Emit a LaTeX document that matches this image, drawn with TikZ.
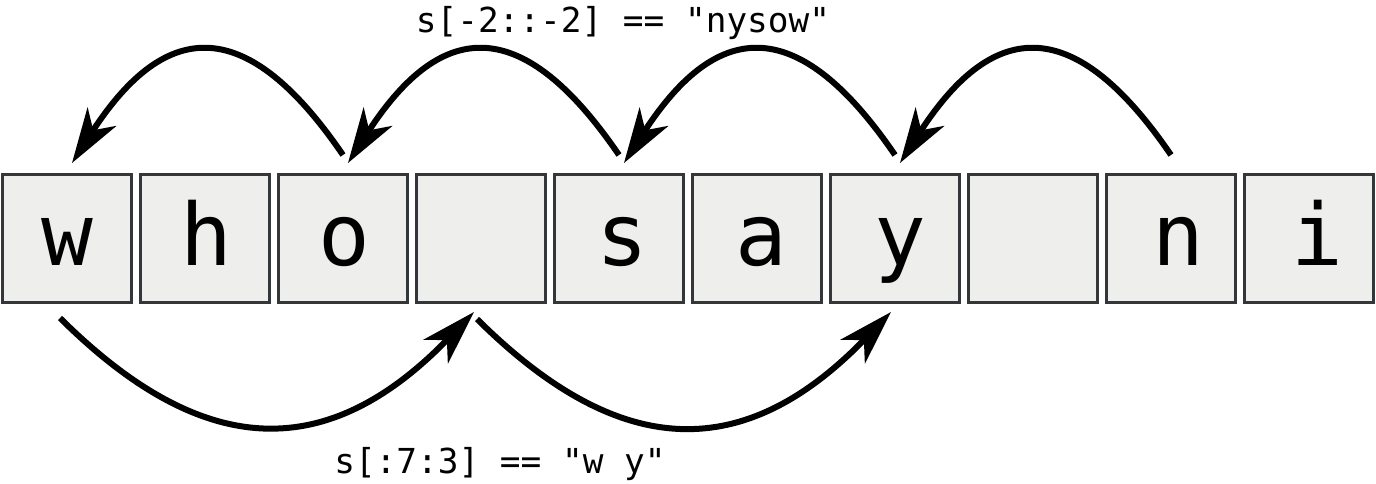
\documentclass[tikz,border=0pt]{standalone}
\usepackage{fontspec}
\newfontfamily\monofont{DejaVu Sans Mono}
\usetikzlibrary{arrows.meta,calc}
\definecolor{cellfill}{HTML}{EEEEEC}
\definecolor{celldraw}{HTML}{343739}
\begin{document}
\begin{tikzpicture}[x=1pt,y=-1pt,
  cell/.style={draw=celldraw, fill=cellfill, line width=3pt,
    minimum width=129pt, minimum height=128pt, inner sep=0pt,
    text height=53pt, text depth=0pt,
    font=\monofont\fontsize{86}{86}\selectfont},
  jump/.style={line width=6pt, draw=black,
    -{Stealth[length=55pt,width=34pt,inset=16pt]}},
  slicetext/.style={inner sep=0pt, anchor=base,
    font=\monofont\fontsize{34.4}{35}\selectfont}
]
\useasboundingbox (0,0) rectangle (1376,483);
\foreach \c [count=\i from 0] in {w,h,o,{},s,a,y,{},n,i}{
  \pgfmathsetmacro\k{1.8*\i}
  \node[cell] (b\i) at ({67+138*\i},238.5) {\kern\k pt\c};
}

% top arc end points
\foreach \i in {2,4,6,8} \coordinate (t\i) at ($(b\i.north)+(0,-18)$);
\foreach \i in {0,2,4,6} \coordinate (p\i) at ($(b\i.north)+(5,-10)$);

\draw[jump] (t8) .. controls ($(t8)+(-95,-139)$) and ($(p6)+(95,-147)$) .. (p6);
\draw[jump] (t6) .. controls ($(t6)+(-95,-139)$) and ($(p4)+(95,-147)$) .. (p4);
\draw[jump] (t4) .. controls ($(t4)+(-95,-139)$) and ($(p2)+(95,-147)$) .. (p2);
\draw[jump] (t2) .. controls ($(t2)+(-95,-139)$) and ($(p0)+(95,-147)$) .. (p0);

% bottom arc end points
\coordinate (s0) at ($(b0.south)+(-7,14)$);
\coordinate (q3) at ($(b3.south)+(-7,8)$);
\coordinate (s3) at ($(b3.south)+(-4,15)$);
\coordinate (q6) at ($(b6.south)+(-4,8)$);

\draw[jump] (s0) .. controls ($(s0)+(145,144)$) and ($(q3)+(-145,150)$) .. (q3);
\draw[jump] (s3) .. controls ($(s3)+(145,144)$) and ($(q6)+(-145,150)$) .. (q6);

\node[slicetext] (toplabel) at (623,32) {s[-2::-2] == "nysow"};
\node[slicetext] (botlabel) at (500,473) {s[:7:3] == "w y"};
\end{tikzpicture}
\end{document}
